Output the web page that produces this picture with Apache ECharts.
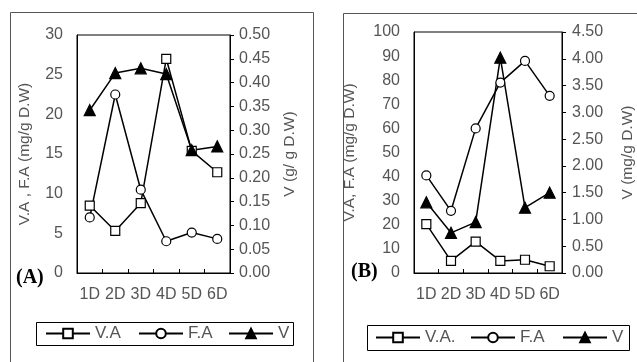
<!DOCTYPE html>
<html><head><meta charset="utf-8">
<script src="https://cdn.jsdelivr.net/npm/echarts@6/dist/echarts.min.js"></script>
<style>html,body{margin:0;padding:0;background:#fff}#c{width:637px;height:362px}</style>
</head><body><div id="c"></div>
<script>
const categories = ['1D','2D','3D','4D','5D','6D'];
// Panel A
const vaA = [8.5, 5.3, 8.8, 27.0, 15.4, 12.7];
const faA = [7.0, 22.5, 10.5, 4.0, 5.1, 4.3];
const vA  = [0.342, 0.420, 0.430, 0.418, 0.258, 0.266];
// Panel B
const vaB = [20.3, 5.0, 13.0, 5.0, 5.5, 2.8];
const faB = [40.5, 25.8, 60.0, 79.0, 88.0, 73.5];
const vB  = [1.32, 0.75, 0.95, 4.02, 1.22, 1.50];
const leftTicksA = {min:0, max:30, interval:5};
const rightTicksA = {min:0, max:0.5, interval:0.05};
const leftTicksB = {min:0, max:100, interval:10};
const rightTicksB = {min:0, max:4.5, interval:0.5};
const legendNamesA = ['V.A','F.A','V'];
const legendNamesB = ['V.A.','F.A','V'];

const txt = '#555';
const font = 'Liberation Sans, Arial, sans-serif';
const chart = echarts.init(document.getElementById('c'), null, {renderer:'canvas'});

function yAx(grid, t, pos, name, gap, dec, showTick, margin){
  return {
    type:'value', gridIndex:grid, position:pos, min:t.min, max:t.max, interval:t.interval,
    name:name, nameLocation:'middle', nameGap:gap, nameRotate:90,
    nameTextStyle:{color:txt, fontSize:15.5, fontFamily:font},
    axisLine:{show:true, lineStyle:{color:'#000', width:1}},
    axisTick:{show:showTick, length:4, inside:false, lineStyle:{color:'#000'}},
    splitLine:{show:false},
    axisLabel:{color:txt, fontSize:16, fontFamily:font, margin: margin,
      formatter: v => dec ? v.toFixed(dec) : String(v)}
  };
}
function xAx(grid){
  return {
    type:'category', gridIndex:grid, data:categories, boundaryGap:true,
    axisLine:{show:true, lineStyle:{color:'#000', width:1}},
    axisTick:{show:true, inside:true, length:4, lineStyle:{color:'#000'}},
    axisLabel:{color:txt, fontSize:16, fontFamily:font, margin:14, interval:0},
    splitLine:{show:false}
  };
}
function ser(name, x, y, data, sym, fill, size){
  return {
    type:'line', name:name, xAxisIndex:x, yAxisIndex:y, data:data,
    symbol:sym, symbolSize:size, showAllSymbol:true,
    lineStyle:{color:'#000', width:1.5},
    itemStyle:{color:fill, borderColor:'#000', borderWidth:1.2},
    emphasis:{disabled:true}, animation:false
  };
}
function leg(name, left, top){
  return {
    orient:'horizontal', left:left, top:top, padding:0,
    itemWidth:44, itemHeight:12, itemGap:5,
    textStyle:{color:txt, fontSize:17, fontFamily:font, padding:[0,0,0,0]},
    selectedMode:false, data:[name]
  };
}
chart.setOption({
  animation:false,
  backgroundColor:'#fff',
  grid:[
    {left:77, top:35, width:153, height:238, show:true, borderColor:'#000', borderWidth:1, backgroundColor:'transparent'},
    {left:414, top:32, width:154, height:241, show:true, borderColor:'#000', borderWidth:1, backgroundColor:'transparent'}
  ],
  xAxis:[xAx(0), xAx(1)],
  yAxis:[
    yAx(0, leftTicksA, 'left', 'V.A , F.A (mg/g D.W)', 44, 0, false, 14),
    yAx(0, rightTicksA, 'right', 'V (g/ g D.W)', 52, 2, true, 9),
    yAx(1, leftTicksB, 'left', 'V.A, F.A (mg/g D.W)', 56, 0, false, 14),
    yAx(1, rightTicksB, 'right', 'V (mg/g D.W)', 58, 2, true, 10)
  ],
  legend:[
    leg(legendNamesA[0], 45, 325), leg(legendNamesA[1], 138, 325), leg(legendNamesA[2], 228, 325),
    leg(legendNamesB[0], 375, 329), leg(legendNamesB[1], 470, 329), leg(legendNamesB[2], 562, 329)
  ],
  series:[
    ser('V.A', 0, 0, vaA, 'rect', '#fff', 9),
    ser('F.A', 0, 0, faA, 'circle', '#fff', 9),
    ser('V', 0, 1, vA, 'triangle', '#000', 11),
    ser('V.A.', 1, 2, vaB, 'rect', '#fff', 9),
    ser('F.A', 1, 2, faB, 'circle', '#fff', 9),
    ser('V', 1, 3, vB, 'triangle', '#000', 11)
  ],
  graphic:[
    {type:'rect', shape:{x:10.5, y:12.5, width:303, height:360}, style:{fill:'none', stroke:'#555', lineWidth:1}, silent:true, z:-1},
    {type:'rect', shape:{x:343.5, y:13.5, width:310, height:360}, style:{fill:'none', stroke:'#555', lineWidth:1}, silent:true, z:-1},
    {type:'rect', shape:{x:36.5, y:322.5, width:257, height:23}, style:{fill:'none', stroke:'#000', lineWidth:1}, silent:true, z:-1},
    {type:'rect', shape:{x:367.5, y:325.5, width:262, height:25}, style:{fill:'none', stroke:'#000', lineWidth:1}, silent:true, z:-1},
    {type:'text', left:16, top:268, style:{text:'(A)', font:'bold 20px "Liberation Serif", "DejaVu Serif", serif', fill:'#000'}},
    {type:'text', left:351, top:262, style:{text:'(B)', font:'bold 20px "Liberation Serif", "DejaVu Serif", serif', fill:'#000'}}
  ]
});
</script></body></html>
